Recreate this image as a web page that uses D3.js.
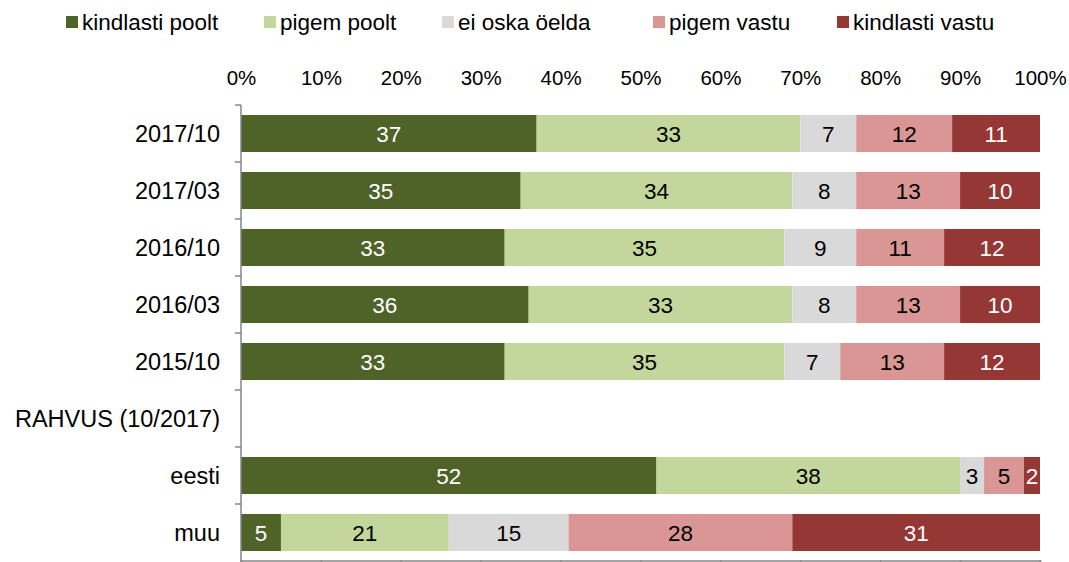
<!DOCTYPE html>
<html>
<head>
<meta charset="utf-8">
<script src="https://cdn.jsdelivr.net/npm/d3@7"></script>
<style>
  html, body { margin: 0; padding: 0; background: #fff; }
  svg { display: block; font-family: "Liberation Sans", Arial, sans-serif; }
</style>
</head>
<body>
<svg id="chart" width="1069" height="562"></svg>
<script>
// Survey answers, share of respondents (%)
const categories = ["2017/10", "2017/03", "2016/10", "2016/03", "2015/10", "RAHVUS (10/2017)", "eesti", "muu"];
const seriesNames = ["kindlasti poolt", "pigem poolt", "ei oska öelda", "pigem vastu", "kindlasti vastu"];
const kindlastiPoolt = [37, 35, 33, 36, 33, null, 52, 5];
const pigemPoolt     = [33, 34, 35, 33, 35, null, 38, 21];
const eiOskaOelda    = [7, 8, 9, 8, 7, null, 3, 15];
const pigemVastu     = [12, 13, 11, 13, 13, null, 5, 28];
const kindlastiVastu = [11, 10, 12, 10, 12, null, 2, 31];
const tickValues = [0, 10, 20, 30, 40, 50, 60, 70, 80, 90, 100];

const seriesValues = [kindlastiPoolt, pigemPoolt, eiOskaOelda, pigemVastu, kindlastiVastu];
const colors = ["#4F6228", "#C3D69B", "#D9D9D9", "#D99694", "#953735"];
const labelColors = ["#ffffff", "#000000", "#000000", "#000000", "#ffffff"];

const svg = d3.select("#chart");
const margin = { left: 241, right: 29, top: 105, bottom: 1 };
const W = 1069, H = 562;

const x = d3.scaleLinear().domain([0, 100]).range([margin.left, W - margin.right]);
const y = d3.scaleBand().domain(categories).range([margin.top, H - margin.bottom]).paddingInner(0.35).paddingOuter(0.175);
const yb = d3.scaleBand().domain(categories).range([margin.top, H - margin.bottom]);

// rows for stacking
const rows = categories.map((c, i) => {
  const r = { cat: c };
  seriesNames.forEach((s, k) => r[s] = seriesValues[k][i] || 0);
  return r;
});
const stacked = d3.stack().keys(seriesNames)(rows);

const g = svg.append("g");
stacked.forEach((layer, k) => {
  const lg = g.append("g");
  const segs = layer.filter(d => d[1] - d[0] > 0);
  lg.selectAll("rect").data(segs).enter().append("rect")
    .attr("x", d => x(d[0]))
    .attr("y", d => y(d.data.cat))
    .attr("width", d => x(d[1]) - x(d[0]))
    .attr("height", y.bandwidth())
    .attr("fill", colors[k]);
  lg.selectAll("text").data(segs).enter().append("text")
    .attr("x", d => (x(d[0]) + x(d[1])) / 2)
    .attr("y", d => y(d.data.cat) + y.bandwidth() / 2)
    .attr("dy", "0.36em")
    .attr("text-anchor", "middle")
    .attr("font-size", 22.5)
    .attr("fill", labelColors[k])
    .text(d => d[1] - d[0]);
});

// Top tick labels (percent)
const topAxis = d3.axisTop(x).tickValues(tickValues).tickFormat(d => d + "%").tickSize(0).tickPadding(0);
svg.append("g").attr("transform", "translate(0,85)").call(topAxis)
  .call(a => a.select(".domain").remove())
  .selectAll("text").attr("font-size", 20.5).attr("fill", "#000").attr("font-family", "Liberation Sans, Arial, sans-serif");

// Bottom axis line with ticks
const bottomAxis = d3.axisBottom(x).tickValues(tickValues).tickFormat("").tickSizeOuter(0).tickSize(6);
svg.append("g").attr("transform", `translate(0,${H - margin.bottom - 0.5})`).call(bottomAxis)
  .call(a => a.selectAll("line, path").attr("stroke", "#868686").attr("stroke-width", 1.5));

// Left category axis with boundary ticks
const leftG = svg.append("g");
leftG.append("line")
  .attr("x1", margin.left).attr("x2", margin.left)
  .attr("y1", margin.top).attr("y2", H)
  .attr("stroke", "#868686").attr("stroke-width", 1.5);
leftG.selectAll("line.tick").data(categories).enter().append("line")
  .attr("class", "tick")
  .attr("x1", margin.left - 6).attr("x2", margin.left)
  .attr("y1", d => yb(d)).attr("y2", d => yb(d))
  .attr("stroke", "#868686").attr("stroke-width", 1.5);
leftG.selectAll("text").data(categories).enter().append("text")
  .attr("x", 220)
  .attr("y", d => yb(d) + yb.bandwidth() / 2)
  .attr("dy", "0.36em")
  .attr("text-anchor", "end")
  .attr("font-size", 23.5)
  .attr("fill", "#000")
  .text(d => d);

// Legend
const legendX = [66, 264, 442, 653, 837];
const legend = svg.append("g");
seriesNames.forEach((s, k) => {
  legend.append("rect").attr("x", legendX[k]).attr("y", 16).attr("width", 12).attr("height", 12).attr("fill", colors[k]);
  legend.append("text").attr("x", legendX[k] + 16).attr("y", 22).attr("dy", "0.36em")
    .attr("font-size", 22.5).attr("fill", "#000").text(s);
});
</script>
</body>
</html>
